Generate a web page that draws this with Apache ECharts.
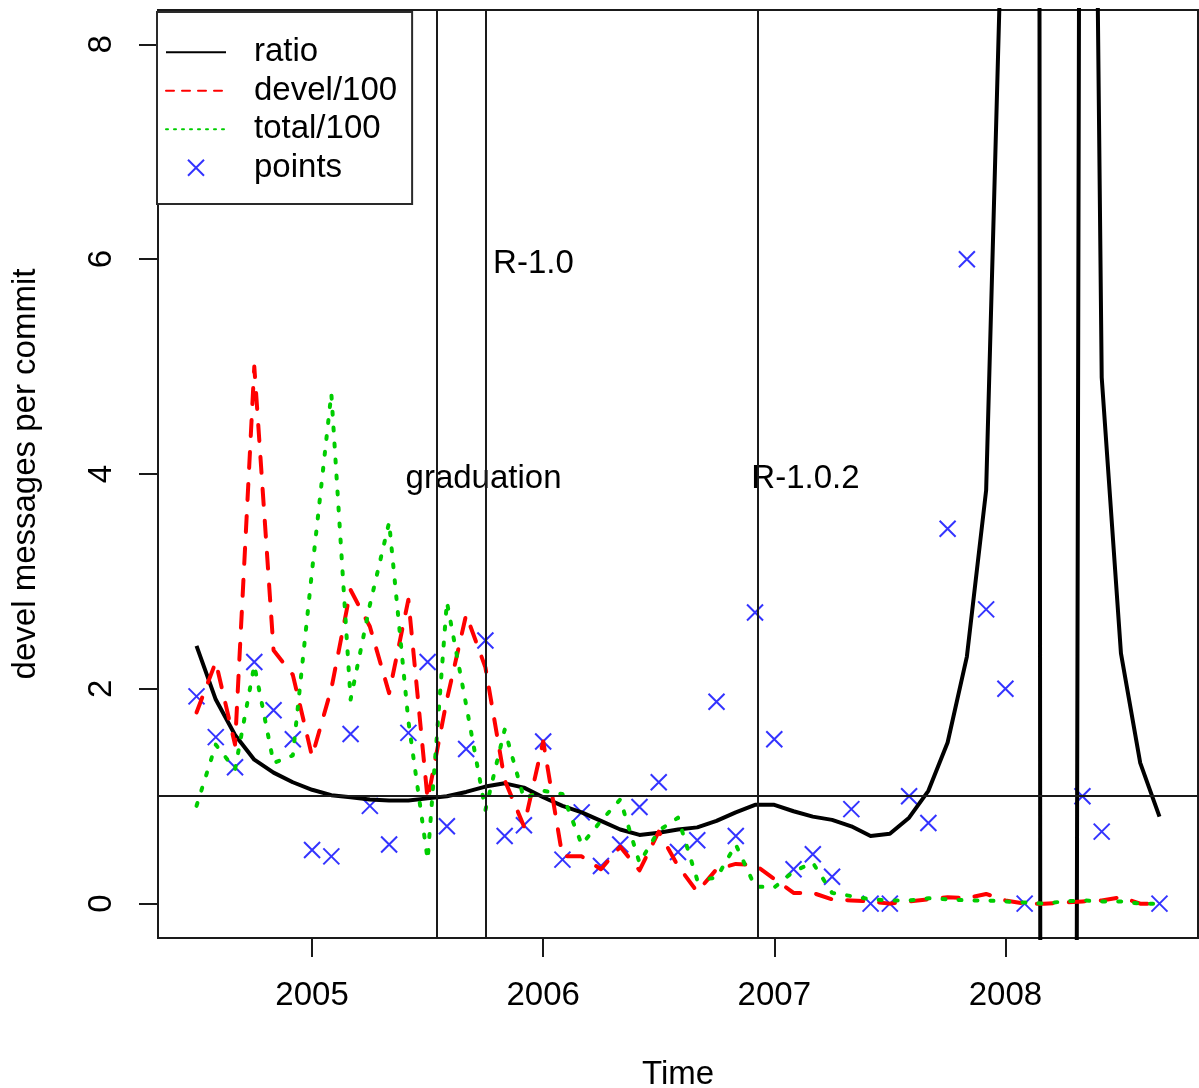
<!DOCTYPE html>
<html>
<head>
<meta charset="utf-8">
<script src="https://cdn.jsdelivr.net/npm/echarts@6/dist/echarts.min.js"></script>
<style>
  html, body { margin: 0; padding: 0; background: #fff; }
  #chart { width: 1199px; height: 1088px; }
</style>
</head>
<body>
<div id="chart"></div>
<script>
// Monthly observations, July 2004 .. September 2008
const months = [
  '2004-07','2004-08','2004-09','2004-10','2004-11','2004-12',
  '2005-01','2005-02','2005-03','2005-04','2005-05','2005-06',
  '2005-07','2005-08','2005-09','2005-10','2005-11','2005-12',
  '2006-01','2006-02','2006-03','2006-04','2006-05','2006-06',
  '2006-07','2006-08','2006-09','2006-10','2006-11','2006-12',
  '2007-01','2007-02','2007-03','2007-04','2007-05','2007-06',
  '2007-07','2007-08','2007-09','2007-10','2007-11','2007-12',
  '2008-01','2008-02','2008-03','2008-04','2008-05','2008-06',
  '2008-07','2008-08','2008-09'
];

// smoothed devel messages per commit (blows up where commits drop to zero)
const ratio = [
  2.40, 1.90, 1.57, 1.34, 1.22, 1.13, 1.06, 1.01, 0.99, 0.97, 0.96, 0.96,
  0.98, 1.00, 1.04, 1.09, 1.12, 1.08, 0.99, 0.91, 0.85, 0.77, 0.69, 0.64,
  0.66, 0.69, 0.71, 0.77, 0.85, 0.92, 0.92, 0.86, 0.81, 0.78, 0.72, 0.63,
  0.65, 0.80, 1.05, 1.50, 2.30, 3.85, 10.4, 170, -40, -54, 22, 4.9,
  2.33, 1.31, 0.81
];

// devel list messages / 100
const devel = [
  1.78, 2.25, 1.48, 5.00, 2.36, 2.13, 1.37, 2.00, 2.92, 2.58, 1.96, 2.83,
  0.97, 1.90, 2.69, 2.20, 1.15, 0.72, 1.51, 0.44, 0.44, 0.32, 0.53, 0.31,
  0.67, 0.35, 0.11, 0.32, 0.37, 0.36, 0.23, 0.10, 0.10, 0.04, 0.03, 0.02,
  0.00, 0.02, 0.04, 0.06, 0.05, 0.09, 0.03, 0.00, 0.00, 0.01, 0.02, 0.03,
  0.06, 0.00, 0.00
];

// all list messages / 100
const total = [
  0.91, 1.48, 1.25, 2.22, 1.31, 1.38, 3.10, 4.75, 1.90, 2.78, 3.55, 1.70,
  0.41, 2.81, 1.85, 0.87, 1.62, 0.98, 1.05, 1.02, 0.55, 0.77, 0.97, 0.38,
  0.68, 0.80, 0.22, 0.24, 0.55, 0.16, 0.15, 0.30, 0.38, 0.10, 0.07, 0.04,
  0.03, 0.03, 0.05, 0.04, 0.03, 0.03, 0.02, 0.01, 0.00, 0.02, 0.03, 0.02,
  0.02, 0.00, 0.00
];

// raw monthly ratio (missing where there were no commits)
const points = [
  1.93, 1.55, 1.27, 2.25, 1.80, 1.53, 0.50, 0.44, 1.58, 0.91, 0.55, 1.59,
  2.25, 0.72, 1.44, 2.45, 0.63, 0.73, 1.51, 0.41, 0.85, 0.35, 0.55, 0.90,
  1.13, 0.48, 0.59, 1.88, 0.63, 2.71, 1.53, 0.32, 0.46, 0.25, 0.88, 0.00,
  0.00, 1.00, 0.75, 3.49, 6.00, 2.74, 2.00, 0.00, null, null, 1.00, 0.67,
  null, null, 0.00
];

// project milestones (decimal year) and their captions
const eventNames = ['graduation', 'R-1.0', 'R-1.0.2'];
const eventTimes = [2005.535, 2005.753, 2006.934];
const captionText = ['graduation', 'R-1.0', 'R-1.0.2'];
const captionX = [2005.744, 2005.960, 2007.137];
const captionY = [4, 6, 4];

const xTicks = [2005, 2006, 2007, 2008];
const yTicks = [0, 2, 4, 6, 8];

const FONT = "'Liberation Sans', Arial, Helvetica, sans-serif";
const toYear = s => { const [y, m] = s.split('-').map(Number); return y + (m - 1) / 12; };
const t = months.map(toYear);
const pairs = arr => t.map((x, i) => [x, arr[i]]);
const CROSS = 'path://M0,0L10,10M10,0L0,10';
const NO_MARKER = { color: 'rgba(0,0,0,0)', borderWidth: 0, opacity: 0 };

const chart = echarts.init(document.getElementById('chart'), null, { renderer: 'canvas' });

chart.setOption({
  animation: false,
  backgroundColor: '#fff',
  textStyle: { fontFamily: FONT },
  grid: {
    left: 158, top: 10, right: 1, bottom: 150,
    outerBoundsMode: 'none',
    show: true, borderColor: '#1a1a1a', borderWidth: 2, backgroundColor: 'transparent'
  },
  xAxis: {
    type: 'value', min: 2004 + 4 / 12, max: 2008 + 10 / 12,
    name: 'Time', nameLocation: 'middle', nameGap: 120,
    nameTextStyle: { fontFamily: FONT, fontSize: 33, color: '#000' },
    axisLine: { show: true, onZero: false, lineStyle: { color: '#1a1a1a', width: 2 } },
    splitLine: { show: false },
    axisTick: { show: true, inside: false, customValues: xTicks, length: 19, lineStyle: { color: '#1a1a1a', width: 2 } },
    axisLabel: {
      customValues: xTicks, margin: 41, fontFamily: FONT, fontSize: 33, color: '#000',
      formatter: v => String(v)
    }
  },
  yAxis: {
    type: 'value', min: -0.32, max: 8.32,
    name: 'devel messages per commit', nameLocation: 'middle', nameGap: 116, nameRotate: 90,
    nameTextStyle: { fontFamily: FONT, fontSize: 33, color: '#000' },
    axisLine: { show: true, onZero: false, lineStyle: { color: '#1a1a1a', width: 2 } },
    splitLine: { show: false },
    axisTick: { show: true, inside: false, customValues: yTicks, length: 19, lineStyle: { color: '#1a1a1a', width: 2 } },
    axisLabel: {
      customValues: yTicks, rotate: 90, margin: 40, fontFamily: FONT, fontSize: 33, color: '#000',
      formatter: v => String(v)
    }
  },
  legend: {
    orient: 'vertical', left: 157, top: 12,
    padding: [21, 15, 17, 8],
    itemGap: 0, itemWidth: 60, itemHeight: 16,
    backgroundColor: '#fff', borderColor: '#2a2a2a', borderWidth: 2,
    selectedMode: false,
    textStyle: { fontFamily: FONT, fontSize: 33, color: '#000', lineHeight: 38.5, padding: [0, 0, 0, 23] },
    data: [
      { name: 'ratio', itemStyle: NO_MARKER, lineStyle: { width: 2, type: 'solid', color: '#000' } },
      { name: 'devel/100', itemStyle: NO_MARKER, lineStyle: { width: 2, type: [8, 8], color: '#ff0000' } },
      { name: 'total/100', itemStyle: NO_MARKER, lineStyle: { width: 2, type: [2, 6], color: '#00cd00' } },
      { name: 'points', icon: CROSS, itemStyle: { color: '#0000ff', borderColor: '#0000ff', borderWidth: 2 } }
    ]
  },
  series: [
    {
      name: 'ratio', type: 'line', data: pairs(ratio), symbol: 'none', clip: true,
      lineStyle: { color: '#000', width: 4, join: 'round' }, itemStyle: { color: '#000' }
    },
    {
      name: 'devel/100', type: 'line', data: pairs(devel), symbol: 'none', clip: true,
      lineStyle: { color: '#ff0000', width: 4, type: [16, 16], cap: 'round', join: 'round' },
      itemStyle: { color: '#ff0000' }
    },
    {
      name: 'total/100', type: 'line', data: pairs(total), symbol: 'none', clip: true,
      lineStyle: { color: '#00cd00', width: 4, type: [3, 13], cap: 'round', join: 'round' },
      itemStyle: { color: '#00cd00' }
    },
    {
      name: 'points', type: 'scatter', data: pairs(points).filter(p => p[1] !== null),
      symbol: CROSS, symbolSize: 16,
      itemStyle: { color: '#0000ff', borderColor: '#0000ff', borderWidth: 2 }
    },
    {
      name: 'milestones', type: 'line', data: [], silent: true,
      markLine: {
        silent: true, symbol: ['none', 'none'], animation: false,
        label: { show: false },
        lineStyle: { color: '#1a1a1a', width: 2, type: 'solid' },
        data: [{ yAxis: 1, name: 'unity' }].concat(
          eventTimes.map((x, i) => ({ xAxis: x, name: eventNames[i] })))
      }
    },
    {
      name: 'captions', type: 'scatter', silent: true, symbolSize: 1,
      itemStyle: { color: 'rgba(0,0,0,0)' },
      data: captionText.map((s, i) => [captionX[i], captionY[i], s]),
      label: {
        show: true, position: [0, 0], align: 'center', verticalAlign: 'middle',
        offset: [0, 5], formatter: p => p.value[2],
        fontFamily: FONT, fontSize: 33, color: '#000', textBorderWidth: 0, opacity: 1
      }
    }
  ]
});
</script>
</body>
</html>
